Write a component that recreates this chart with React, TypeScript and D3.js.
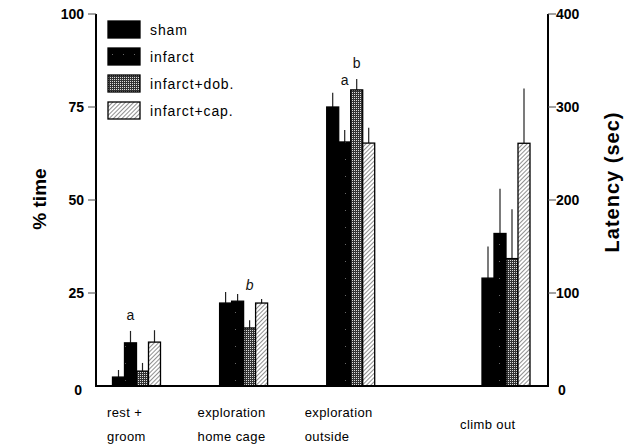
import * as d3 from "d3"

// groups (x axis) and treatment series
const categories = [["rest +", "groom"], ["exploration", "home cage"], ["exploration", "outside"], ["climb out"]]
const series = ["sham", "infarct", "infarct+dob.", "infarct+cap."]

// % time (left axis) for the first three groups, latency in sec (right axis) for climb out
const restGroom = [2.4, 11.6, 4.0, 11.8]
const restGroomErr = [1.9, 3.2, 2.2, 3.2]
const homeCage = [22.3, 22.8, 15.6, 22.3]
const homeCageErr = [3.0, 1.9, 2.1, 1.1]
const outside = [75.0, 65.6, 79.6, 65.3]
const outsideErr = [3.8, 3.2, 2.9, 4.1]
const climbOut = [116, 164, 137, 261]
const climbOutErr = [34, 48, 53, 59]

const leftTicks = [0, 25, 50, 75, 100]
const rightTicks = [0, 100, 200, 300, 400]

// significance letters: group, series, text, height in % units
const marks = [
  { g: 0, s: 1, text: "a", v: 17.7, italic: false },
  { g: 1, s: 2, text: "b", v: 25.8, italic: true },
  { g: 2, s: 1, text: "a", v: 81.0, italic: false },
  { g: 2, s: 2, text: "b", v: 85.5, italic: false },
]

const fills = ["#000", "url(#pInfarct)", "url(#pDob)", "url(#pCap)"]

export default function App() {
  const width = 636
  const height = 445
  const x0 = 96
  const x1 = 548
  const yL = d3.scaleLinear().domain([0, 100]).range([386, 14])
  const yR = d3.scaleLinear().domain([0, 400]).range([386, 14])
  // group centres: three equal steps, then a wider gap before "climb out"
  const xg = d3.scaleLinear().domain([0, 3.45]).range([136.5, 506])
  const groupPos = [0, 1, 2, 3.45]
  const xs = d3.scaleBand<string>().domain(series).range([-24, 24]).padding(0)

  const groups = [
    { vals: restGroom, errs: restGroomErr, y: yL },
    { vals: homeCage, errs: homeCageErr, y: yL },
    { vals: outside, errs: outsideErr, y: yL },
    { vals: climbOut, errs: climbOutErr, y: yR },
  ]

  const font = "'Liberation Sans', Arial, Helvetica, sans-serif"

  return (
    <svg width={width} height={height} style={{ position: "absolute", left: 0, top: 0, background: "#fff" }} fontFamily={font}>
      <defs>
        <pattern id="pInfarct" width="11" height="17" patternUnits="userSpaceOnUse">
          <rect width="11" height="17" fill="#000" />
          <rect x="4" y="6" width="1" height="1" fill="#666" />
        </pattern>
        <pattern id="pDob" width="2" height="2" patternUnits="userSpaceOnUse">
          <rect width="2" height="2" fill="#333" />
          <rect width="1" height="1" fill="#ddd" />
        </pattern>
        <pattern id="pCap" width="3" height="3" patternUnits="userSpaceOnUse" patternTransform="rotate(45)">
          <rect width="3" height="3" fill="#fff" />
          <line x1="0" y1="0" x2="0" y2="3" stroke="#333" strokeWidth="1.1" />
        </pattern>
      </defs>

      {/* bars + error bars */}
      {groups.map((grp, gi) =>
        grp.vals.map((v, si) => {
          const bx = xg(groupPos[gi]) + (xs(series[si]) as number)
          const bw = xs.bandwidth()
          const top = grp.y(v)
          const cx = bx + bw / 2
          return (
            <g key={`${gi}-${si}`}>
              <line x1={cx} x2={cx} y1={top} y2={grp.y(v + grp.errs[si])} stroke="#222" strokeWidth={1.2} />
              <rect x={bx} y={top} width={bw} height={grp.y(0) - top} fill={fills[si]} stroke="#000" strokeWidth={1.3} />
            </g>
          )
        })
      )}

      {/* letters */}
      {marks.map((m, i) => (
        <text key={i} x={xg(groupPos[m.g]) + (xs(series[m.s]) as number) + xs.bandwidth() / 2} y={yL(m.v)}
          textAnchor="middle" fontSize={14} fontStyle={m.italic ? "italic" : "normal"} fill="#111">{m.text}</text>
      ))}

      {/* axes */}
      <line x1={x0} x2={x0} y1={yL(100)} y2={yL(0)} stroke="#000" strokeWidth={2} />
      <line x1={x1} x2={x1} y1={yR(400)} y2={yR(0)} stroke="#000" strokeWidth={2} />
      <line x1={x0 - 1} x2={x1 + 1} y1={yL(0)} y2={yL(0)} stroke="#000" strokeWidth={2} />
      {leftTicks.map(t => (
        <g key={t}>
          {t > 0 && <line x1={x0 - 8} x2={x0} y1={yL(t)} y2={yL(t)} stroke="#444" strokeWidth={1} />}
          <text x={t > 0 ? 84 : 82} y={yL(t) + (t > 0 ? 5 : 9)} textAnchor="end" fontSize={14} fontWeight="bold">{t}</text>
        </g>
      ))}
      {rightTicks.map(t => (
        <g key={t}>
          {t > 0 && <line x1={x1} x2={x1 + 8} y1={yR(t)} y2={yR(t)} stroke="#444" strokeWidth={1} />}
          <text x={t > 0 ? 556 : 558} y={yR(t) + (t > 0 ? 5 : 9)} fontSize={14} fontWeight="bold">{t}</text>
        </g>
      ))}

      {/* axis titles */}
      <text transform="translate(46,199) rotate(-90)" textAnchor="middle" fontSize={19} fontWeight="bold">% time</text>
      <text transform="translate(619,182) rotate(-90)" textAnchor="middle" fontSize={20} fontWeight="bold" letterSpacing={1}>Latency (sec)</text>

      {/* category labels */}
      {categories.map((lines, gi) => {
        const gx = Math.max(107, xg(groupPos[gi]) - 46)
        return lines.length === 1 ? (
          <text key={gi} x={gx} y={429} fontSize={13} letterSpacing={0.4}>{lines[0]}</text>
        ) : (
          <text key={gi} x={gx} y={417} fontSize={13} letterSpacing={0.4}>
            <tspan x={gx}>{lines[0]}</tspan>
            <tspan x={gx} dy={24}>{lines[1]}</tspan>
          </text>
        )
      })}

      {/* legend */}
      {series.map((s, i) => (
        <g key={s} transform={`translate(108,${21 + i * 27})`}>
          <rect width={32} height={17} fill={fills[i]} stroke="#000" strokeWidth={1.3} />
          <text x={42} y={14} fontSize={14} letterSpacing={0.9}>{s}</text>
        </g>
      ))}
    </svg>
  )
}
